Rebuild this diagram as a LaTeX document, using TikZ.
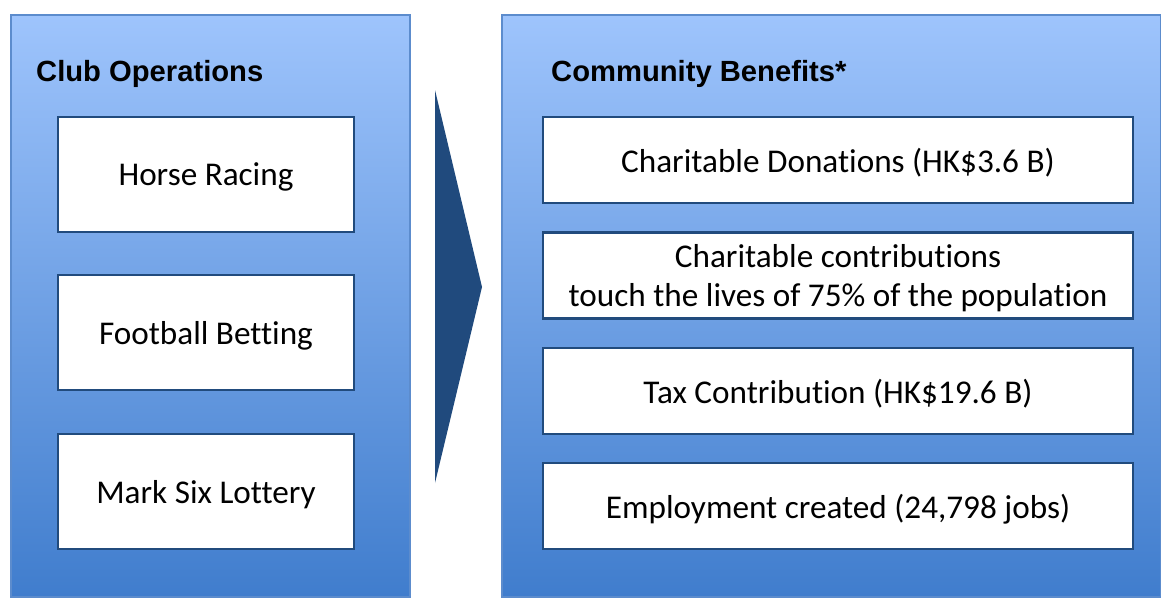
\documentclass[tikz,border=0pt]{standalone}
\usepackage{fontspec}
\setmainfont[Ligatures=NoCommon]{Carlito}
\newfontfamily\headfont{Liberation Sans}
\definecolor{paneltop}{RGB}{158,196,252}
\definecolor{panelbot}{RGB}{64,125,205}
\definecolor{panelline}{RGB}{92,140,205}
\definecolor{boxline}{RGB}{33,75,125}
\definecolor{arrowblue}{RGB}{32,74,125}
\begin{document}
\begin{tikzpicture}[x=1pt,y=-1pt,
  panel/.style={top color=paneltop,bottom color=panelbot,draw=panelline,line width=1.2pt},
  itembox/.style={draw=boxline,fill=white,line width=2.6pt,inner sep=0pt,align=center,
    text depth=0pt,font=\fontsize{33.2}{39.5}\selectfont},
  head/.style={anchor=base west,inner sep=0pt,font=\headfont\bfseries\fontsize{29.2}{34}\selectfont}]
\useasboundingbox (0,0) rectangle (1161,597);
\fill[white] (0,0) rectangle (1161,597);
% panels
\path[panel] (11,15) rectangle (410,597);
\path[panel] (502,15) rectangle (1161,597);
% arrow
\fill[arrowblue] (435,90) -- (482,287) -- (435,483) -- cycle;
% titles
\node[head] (t1) at (36,81) {Club Operations};
\node[head] (t2) at (551,81) {Community Benefits*};
% left boxes
\node[itembox,minimum width=296pt,minimum height=115pt] (hr) at (206,174.5) {Horse Racing};
\node[itembox,minimum width=296pt,minimum height=115pt] (fb) at (206,332.5) {Football Betting};
\node[itembox,minimum width=296pt,minimum height=115pt] (ms) at (206,491.5) {Mark Six Lottery};
% right boxes
\node[itembox,minimum width=590pt,minimum height=86pt] (cd) at (838,160) {Charitable Donations (HK\$3.6 B)};
\node[itembox,minimum width=590pt,minimum height=86pt] (cc) at (838,275.5) {Charitable contributions\\touch the lives of 75\% of the population};
\node[itembox,minimum width=590pt,minimum height=86pt] (tc) at (838,391) {Tax Contribution (HK\$19.6 B)};
\node[itembox,minimum width=590pt,minimum height=86pt] (em) at (838,506) {Employment created (24,798 jobs)};
\end{tikzpicture}
\end{document}
